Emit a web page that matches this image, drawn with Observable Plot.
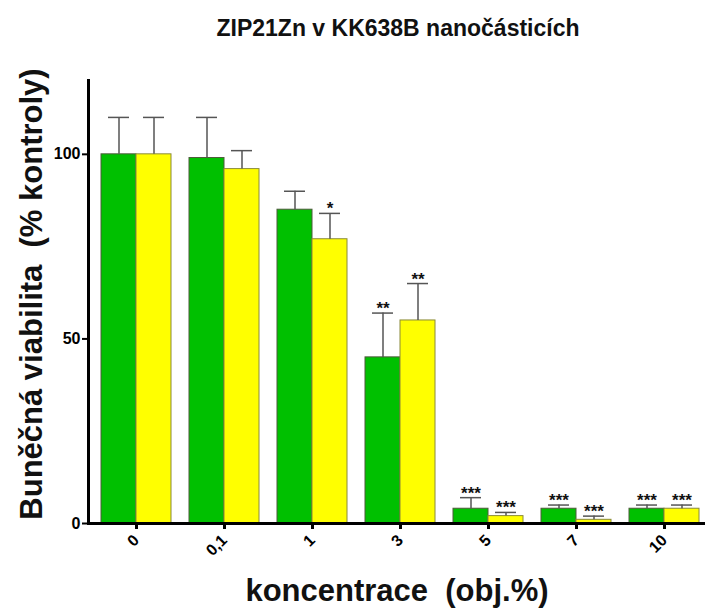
<!DOCTYPE html>
<html><head><meta charset="utf-8">
<script src="https://cdn.jsdelivr.net/npm/d3@7"></script>
<script src="https://cdn.jsdelivr.net/npm/@observablehq/plot@0.6"></script>
<style>
body{margin:0;background:#fff;font-family:"Liberation Sans",Arial,sans-serif;}
#wrap{position:relative;width:706px;height:608px;overflow:hidden;}
#title{position:absolute;left:90px;width:616px;top:16px;text-align:center;font-size:23px;font-weight:bold;line-height:24px;color:#111;}
#chart{position:absolute;left:0;top:50px;}
svg text{white-space:pre;}
</style>
</head><body>
<div id="wrap">
<div id="title">ZIP21Zn v KK638B nanočásticích</div>
<div id="chart"></div>
</div>
<script>
const concentrations = ["0","0,1","1","3","5","7","10"];
const greenMean = [100, 99, 85, 45, 4, 4, 4];
const greenSD   = [10, 11, 5, 12, 3, 1, 1];
const yellowMean = [100, 96, 77, 55, 2, 1, 4];
const yellowSD   = [10, 5, 7, 10, 1, 1, 1];
const greenSig  = ["", "", "", "**", "***", "***", "***"];
const yellowSig = ["", "", "*", "**", "***", "***", "***"];
const yTicks = [0, 50, 100];
const yLabel = "Buněčná viabilita  (% kontroly)";
const xLabel = "koncentrace  (obj.%)";

const green = concentrations.map((c, i) => ({c, mean: greenMean[i], top: greenMean[i] + greenSD[i], sig: greenSig[i]}));
const yellow = concentrations.map((c, i) => ({c, mean: yellowMean[i], top: yellowMean[i] + yellowSD[i], sig: yellowSig[i]}));

const W = 706, H = 558;
const capHalf = 10.5;

function build(bw) {
  const q = bw / 4;
  return Plot.plot({
    width: W, height: H,
    marginLeft: 88, marginRight: 1, marginTop: 30, marginBottom: 85,
    style: {fontFamily: "Liberation Sans, Arial, sans-serif", background: "white", color: "black", overflow: "visible"},
    x: {domain: concentrations, paddingInner: 0.2, paddingOuter: 0.082, align: 0.69, axis: null},
    y: {domain: [0, 120], axis: null},
    marks: [
      Plot.barY(green, {x: "c", y: "mean", fill: "#00c000", stroke: "#4d5a3a", strokeWidth: 1, insetRight: bw / 2}),
      Plot.barY(yellow, {x: "c", y: "mean", fill: "#ffff00", stroke: "#8a8a3a", strokeWidth: 1, insetLeft: bw / 2}),
      Plot.ruleX(green, {x: "c", y1: "mean", y2: "top", dx: -q, stroke: "#555", strokeWidth: 1.5}),
      Plot.ruleX(yellow, {x: "c", y1: "mean", y2: "top", dx: q, stroke: "#555", strokeWidth: 1.5}),
      Plot.tickY(green, {x: "c", y: "top", stroke: "#555", strokeWidth: 1.5, insetLeft: q - capHalf, insetRight: 3 * q - capHalf}),
      Plot.tickY(yellow, {x: "c", y: "top", stroke: "#555", strokeWidth: 1.5, insetLeft: 3 * q - capHalf, insetRight: q - capHalf}),
      Plot.text(green, {x: "c", y: "top", text: "sig", dx: -q, dy: 1, lineAnchor: "bottom", fontSize: 17, fontWeight: "bold", fill: "#111"}),
      Plot.text(yellow, {x: "c", y: "top", text: "sig", dx: q, dy: 1, lineAnchor: "bottom", fontSize: 17, fontWeight: "bold", fill: "#111"}),
      Plot.ruleY([0], {stroke: "black", strokeWidth: 3}),
      Plot.frame({anchor: "left", stroke: "black", strokeWidth: 3}),
      Plot.axisY({ticks: yTicks, tickSize: 6, tickPadding: 2, strokeWidth: 2, fontSize: 16, fontWeight: "bold", label: null, tickFormat: d => String(d)}),
      Plot.axisX({tickRotate: -45, tickSize: 6, tickPadding: 8, strokeWidth: 3, fontSize: 16, fontWeight: "bold", label: null}),
      Plot.text([yLabel], {frameAnchor: "left", textAnchor: "middle", rotate: -90, dx: -56, dy: -8, fontSize: 31, fontWeight: "bold", fill: "#111"}),
      Plot.text([xLabel], {frameAnchor: "bottom", dy: 77, lineAnchor: "bottom", fontSize: 31, fontWeight: "bold", fill: "#111"})
    ]
  });
}

let p = build(70);
const bw = p.scale("x").bandwidth;
p = build(bw);
document.getElementById("chart").appendChild(p);
</script>
</body></html>
